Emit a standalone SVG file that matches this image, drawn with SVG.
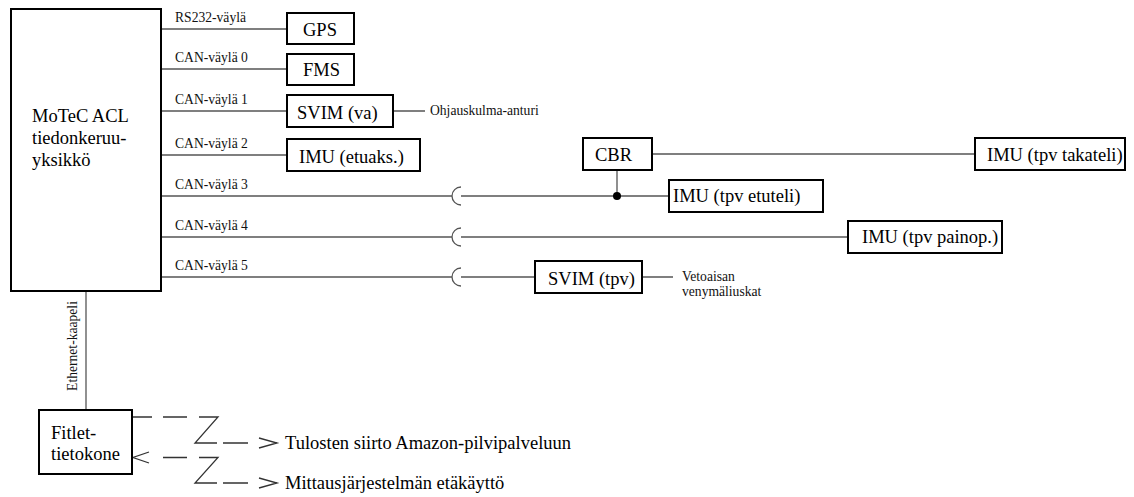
<svg xmlns="http://www.w3.org/2000/svg" width="1134" height="497" viewBox="0 0 1134 497">
<style>
.box{fill:#fff;stroke:#000;stroke-width:2}
.ln{fill:none;stroke:#555;stroke-width:1.3}
.t{font-family:"Liberation Serif","Times New Roman",serif;font-size:18.5px;fill:#000}
.s{font-family:"Liberation Serif","Times New Roman",serif;font-size:13.6px;fill:#111}
.dash{fill:none;stroke:#333;stroke-width:1.3}
</style>
<rect width="1134" height="497" fill="#fff"/>
<g id="connectors">
<path class="ln" d="M161,29H287 M161,69H287 M161,111H287 M161,155H287 M393,111H425"/>
<path class="ln" d="M161,196H452 M461,187A9,9 0 0 0 461,205 M461,196H669"/>
<path class="ln" d="M161,237H452 M461,228A9,9 0 0 0 461,246 M461,237H848"/>
<path class="ln" d="M161,277H452 M461,268A9,9 0 0 0 461,286 M461,277H535 M642,277H673"/>
<path class="ln" d="M652,154H975 M617,170V196"/>
<circle cx="617" cy="196" r="4" fill="#000"/>
<path class="ln" d="M86,291V410"/>
<path class="dash" d="M133,417H152 M163,417H187 M199,417H218L195,443H217 M223,443H248 M259,438L277,443L259,448"/>
<path class="dash" d="M149,452L133,457.5L149,463 M163,457.5H187 M199,457.5H218L195,483H217 M223,483H248 M259,478L277,483L259,488"/>
<text class="s" x="175" y="22">RS232-väylä</text>
<text class="s" x="175" y="62">CAN-väylä 0</text>
<text class="s" x="175" y="104">CAN-väylä 1</text>
<text class="s" x="175" y="148">CAN-väylä 2</text>
<text class="s" x="175" y="189">CAN-väylä 3</text>
<text class="s" x="175" y="230">CAN-väylä 4</text>
<text class="s" x="175" y="270">CAN-väylä 5</text>
<text class="s" x="430" y="115">Ohjauskulma-anturi</text>
<text class="s" x="682" y="281">Vetoaisan</text>
<text class="s" x="682" y="296">venymäliuskat</text>
<text class="s" transform="translate(77,346) rotate(-90)" text-anchor="middle">Ethernet-kaapeli</text>
<text class="t" x="285" y="449">Tulosten siirto Amazon-pilvipalveluun</text>
<text class="t" x="285" y="489">Mittausjärjestelmän etäkäyttö</text>
</g>
<g id="motec">
<rect class="box" x="11" y="9" width="150" height="282"/>
<text class="t" x="32" y="122">MoTeC ACL</text>
<text class="t" x="32" y="144">tiedonkeruu-</text>
<text class="t" x="32" y="166">yksikkö</text>
</g>
<g id="gps"><rect class="box" x="287" y="13" width="67" height="31"/><text class="t" x="303" y="36">GPS</text></g>
<g id="fms"><rect class="box" x="287" y="54" width="67" height="31"/><text class="t" x="303" y="76">FMS</text></g>
<g id="svim-va"><rect class="box" x="287" y="95" width="106" height="32"/><text class="t" x="297" y="119">SVIM (va)</text></g>
<g id="imu-etuaks"><rect class="box" x="287" y="139" width="133" height="32"/><text class="t" x="299" y="163">IMU (etuaks.)</text></g>
<g id="cbr"><rect class="box" x="583" y="138" width="69" height="32"/><text class="t" x="595" y="161">CBR</text></g>
<g id="imu-takateli"><rect class="box" x="975" y="138" width="150" height="32"/><text class="t" x="987" y="161">IMU (tpv takateli)</text></g>
<g id="imu-etuteli"><rect class="box" x="669" y="180" width="154" height="32"/><text class="t" x="673" y="202">IMU (tpv etuteli)</text></g>
<g id="imu-painop"><rect class="box" x="848" y="221" width="154" height="32"/><text class="t" x="862" y="243">IMU (tpv painop.)</text></g>
<g id="svim-tpv"><rect class="box" x="535" y="261" width="107" height="32"/><text class="t" x="548" y="285">SVIM (tpv)</text></g>
<g id="fitlet">
<rect class="box" x="39" y="410" width="93" height="64"/>
<text class="t" x="51" y="439">Fitlet-</text>
<text class="t" x="51" y="460">tietokone</text>
</g>
</svg>
